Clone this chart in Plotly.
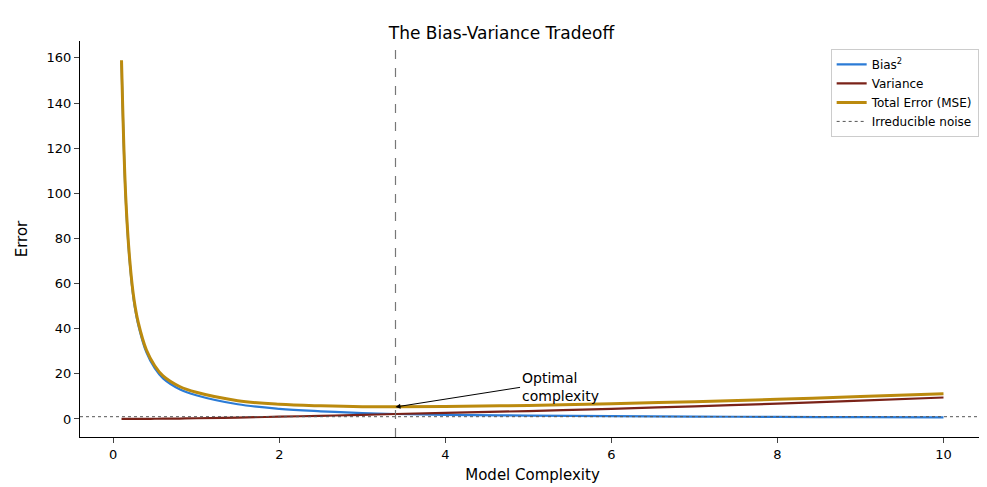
import plotly.graph_objects as go

# values
complexity = [0.1, 0.15, 0.2, 0.25, 0.3, 0.4, 0.5, 0.6, 0.8, 1.0, 1.5, 2.0, 2.5, 3.0, 3.4,
              4.0, 5.0, 6.0, 7.0, 8.0, 9.0, 10.0]
bias_sq = [158, 98, 69, 52, 42, 29.5, 22.5, 18, 13.2, 10.5, 6.5, 4.5, 3.4, 2.6, 2.2,
           1.8, 1.5, 1.25, 1.05, 0.9, 0.8, 0.7]
variance = [0.0, 0.0, 0.01, 0.02, 0.03, 0.05, 0.08, 0.1, 0.18, 0.3, 0.6, 1.0, 1.4, 1.8, 2.2,
            2.7, 3.5, 4.5, 5.6, 6.8, 8.1, 9.5]
noise = 1.0
total = [b + v + noise for b, v in zip(bias_sq, variance)]
optimal_x = 3.4
optimal_y = 5.3

fig = go.Figure()
fig.add_trace(go.Scatter(x=complexity, y=bias_sq, mode="lines", name="Bias<sup>2</sup>",
                         line=dict(color="#2b7bd6", width=2.2, shape="spline")))
fig.add_trace(go.Scatter(x=complexity, y=variance, mode="lines", name="Variance",
                         line=dict(color="#7a2218", width=2.2, shape="spline")))
fig.add_trace(go.Scatter(x=complexity, y=total, mode="lines", name="Total Error (MSE)",
                         line=dict(color="#bb8a0e", width=3, shape="spline")))
fig.add_trace(go.Scatter(x=[-0.4, 10.5], y=[noise, noise], mode="lines", name="Irreducible noise",
                         line=dict(color="#555555", width=1, dash="dot")))

fig.add_vline(x=optimal_x, line=dict(color="#777777", width=1.2, dash="dash"))
fig.add_annotation(x=optimal_x, y=optimal_y, ax=4.9, ay=14, axref="x", ayref="y",
                   text="Optimal<br>complexity", showarrow=True, arrowhead=2, arrowsize=1,
                   arrowwidth=1, arrowcolor="black", xanchor="left", align="left",
                   font=dict(size=14, color="black"))

fig.update_layout(
    width=987, height=487, plot_bgcolor="white", paper_bgcolor="white",
    font=dict(family="DejaVu Sans", size=13, color="black"),
    title=dict(text="The Bias-Variance Tradeoff", x=0.5, xanchor="center", y=0.96, font=dict(size=17)),
    margin=dict(l=72, r=10, t=33, b=58),
    legend=dict(x=0.993, y=0.98, xanchor="right", yanchor="top", bordercolor="#cccccc",
                borderwidth=1, font=dict(size=12), tracegroupgap=0),
    showlegend=True,
)
fig.update_xaxes(title_text="Model Complexity", title_standoff=8, range=[-0.4, 10.5],
                 tickvals=[0, 2, 4, 6, 8, 10],
                 showgrid=False, zeroline=False, showline=True, linecolor="black",
                 ticks="outside", title_font=dict(size=15))
fig.update_yaxes(title_text="Error", range=[-8, 167.5], tickvals=list(range(0, 161, 20)),
                 showgrid=False, zeroline=False, showline=True, linecolor="black",
                 ticks="outside", title_font=dict(size=15))

fig.write_html("out.html")
